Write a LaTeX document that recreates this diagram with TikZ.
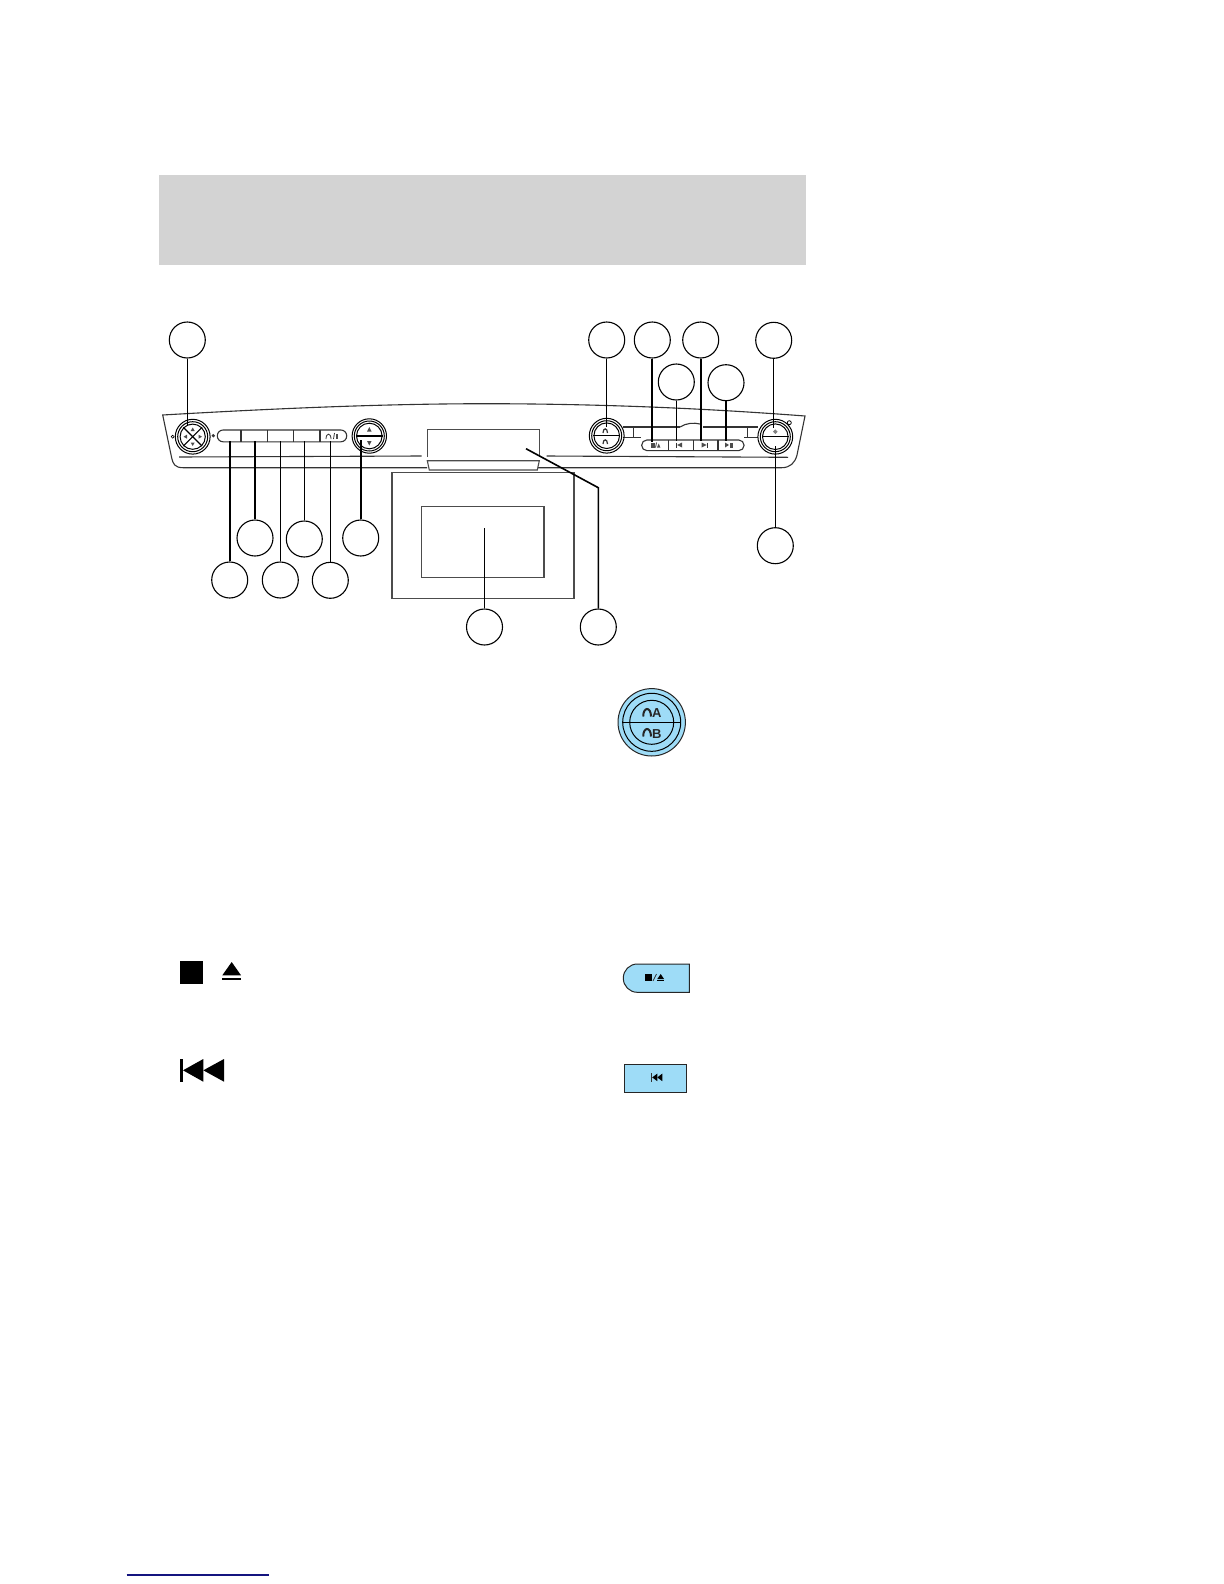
\documentclass[tikz,border=0pt]{standalone}
\usepackage{fontspec}
\setmainfont{Liberation Sans}
\usepackage{xcolor}
\usetikzlibrary{shapes.geometric, positioning}
\definecolor{headgrey}{HTML}{D3D3D3}
\definecolor{iconblue}{HTML}{9EDCF7}
\definecolor{footblue}{HTML}{14147F}

\begin{document}
\begin{tikzpicture}[
    x=0.5pt, y=-0.5pt,
    bubble/.style={circle, draw, line width=0.55pt, minimum size=18pt, inner sep=0pt},
    ring/.style={circle, draw, line width=0.5pt, inner sep=0pt},
    leader/.style={line width=0.55pt},
    heavy/.style={line width=1.1pt},
    panel/.style={line width=0.55pt, draw=black!80},
    screen/.style={line width=0.55pt, draw=black!70},
    iconbox/.style={draw=black!85, fill=iconblue, line width=0.5pt},
    glyph/.style={fill=black},
    tiny/.style={fill=black!70},
    phones/.style={line width=0.4pt, draw=black!80},
    bigphones/.style={line width=1pt, draw=black!85},
    iconletter/.style={font=\fontsize{6.5}{7}\selectfont\bfseries, inner sep=0pt, text=black!85}
]
    \path [use as bounding box, fill=white] (0,0) rectangle (1224,1584);

    % page head and foot
    \fill [headgrey] (158.5,175) rectangle (806,265);
    \draw [footblue, line width=0.55pt] (126.7,1575) -- (269,1575);

    % overhead panel outline
    \draw [panel] (427,467.7) -- (183,467.7) .. controls (175,467.7) and (173,464) .. (171.7,458) -- (162.7,415)
        .. controls (300,407) and (400,403.7) .. (490,403.7)
        .. controls (600,404) and (700,408) .. (805,416) -- (797,455)
        .. controls (795,463) and (790,467.7) .. (781.7,467.7) -- (538,467.7);
    \draw [panel] (179,457) -- (421.7,456);
    \draw [panel] (546.7,456) -- (788,457.3);

    % left side controls
    \node (ringA) [ring, minimum size=17.4pt] at (192.7,436.7) {};
    \node (ringB) [ring, minimum size=15pt] at (192.7,436.7) {};
    \node (ringC) [ring, minimum size=12.6pt] at (192.7,436.7) {};
    \draw [leader] (ringC.45) -- (ringC.225);
    \draw [leader] (ringC.135) -- (ringC.315);
    \fill [tiny] (192.7,427.5) -- (194.7,431) -- (190.7,431) -- cycle;
    \fill [tiny] (192.7,446) -- (194.7,442.5) -- (190.7,442.5) -- cycle;
    \fill [tiny] (183.5,436.7) -- (187,434.7) -- (187,438.7) -- cycle;
    \fill [tiny] (202,436.7) -- (198.5,434.7) -- (198.5,438.7) -- cycle;
    \node (dotA) [circle, draw, line width=0.3pt, minimum size=1.5pt, inner sep=0pt] at (172.7,436.7) {};
    \node (dotB) [circle, fill=black!80, minimum size=1.8pt, inner sep=0pt] at (213.3,435.7) {};

    \node (stripL) [draw=black!80, line width=0.55pt, rectangle, rounded corners=2.9pt, minimum width=64.7pt, minimum height=5.9pt, inner sep=0pt] at (282,435.9) {};
    \draw [panel] (241,430) -- (241,441.8);
    \draw [panel] (267.3,430) -- (267.3,441.8);
    \draw [panel] (293.7,430) -- (293.7,441.8);
    \draw [panel] (320,430) -- (320,441.8);
    \draw [phones] (326,439) .. controls (326,432.5) and (331,432.5) .. (331,439);
    \draw [phones] (333.5,439) -- (334.5,433);
    \fill [tiny] (335.5,433.5) rectangle (338,439);

    \node (ringD) [ring, minimum size=17.2pt] at (369.3,436) {};
    \node (ringE) [ring, minimum size=15pt] at (369.3,436) {};
    \node (ringF) [ring, minimum size=12.8pt] at (369.3,436) {};
    \draw [leader] (ringF.west) -- (ringF.east);
    \fill [tiny] (369.3,427) -- (371.5,431.5) -- (367.1,431.5) -- cycle;
    \fill [tiny] (369.3,445.5) -- (371.5,441) -- (367.1,441) -- cycle;

    % screen and its housing
    \draw [screen] (427.3,457) -- (427.3,429.3) -- (539.3,429.3) -- (539.3,457);
    \draw [screen] (427.3,460.7) -- (539.3,460.7) -- (537.3,470) -- (429.3,470) -- cycle;
    \draw [screen] (392,472.3) rectangle (574,598.3);
    \draw [screen] (421.7,506.7) rectangle (544,577.3);

    % right side controls
    \draw [panel] (623.3,427) -- (680,427);
    \draw [panel] (680,427) .. controls (686,423) and (694,422.5) .. (700,424);
    \draw [panel] (703,427) -- (758.3,427);
    \draw [panel] (623.3,437.3) -- (641,437.3);
    \draw [panel] (744,437.3) -- (758.3,437.3);
    \draw [panel] (633.3,427) -- (633.3,437.3);
    \draw [panel] (747.3,427) -- (747.3,437.3);

    \node (ringG) [ring, minimum size=17.4pt] at (606.7,435.7) {};
    \node (ringH) [ring, minimum size=15pt] at (606.7,435.7) {};
    \node (ringI) [ring, minimum size=12.8pt] at (606.7,435.7) {};
    \draw [leader] (ringI.west) -- (ringI.east);
    \draw [phones, line width=0.6pt] (603,433) .. controls (603,427.5) and (607.5,427.5) .. (607.5,433);
    \draw [phones, line width=0.6pt] (603,444) .. controls (603,438.5) and (607.5,438.5) .. (607.5,444);

    \node (stripR) [draw=black!80, line width=0.55pt, fill=white, rectangle, rounded corners=2.6pt, minimum width=51.2pt, minimum height=5.3pt, inner sep=0pt] at (692.85,445.3) {};
    \draw [panel] (668.3,440) -- (668.3,450.7);
    \draw [panel] (693.3,440) -- (693.3,450.7);
    \draw [panel] (718,440) -- (718,450.7);
    \fill [tiny] (651,442.5) rectangle (654.5,447.5);
    \draw [phones] (655.5,447.5) -- (656.5,442.5);
    \fill [tiny] (657,447.5) -- (658.7,443.5) -- (660.4,447.5) -- cycle;
    \draw [phones] (676.5,442.5) -- (676.5,447.5);
    \fill [tiny] (677,445) -- (682,442.5) -- (682,447.5) -- cycle;
    \fill [tiny] (706.5,445) -- (701.5,442.5) -- (701.5,447.5) -- cycle;
    \draw [phones] (707,442.5) -- (707,447.5);
    \fill [tiny] (725,442.5) -- (725,447.5) -- (729,445) -- cycle;
    \fill [tiny] (729.5,442.5) rectangle (732.5,447.5);

    \node (ringJ) [ring, minimum size=17.4pt] at (775.3,436.7) {};
    \node (ringK) [ring, minimum size=15pt] at (775.3,436.7) {};
    \node (ringL) [ring, minimum size=12.8pt] at (775.3,436.7) {};
    \draw [leader] (ringL.west) -- (ringL.east);
    \node (knobMark) [diamond, fill=black!50, minimum size=2.5pt, inner sep=0pt] at (775.3,431.7) {};
    \node (lampDot) [circle, draw, line width=0.4pt, minimum size=2pt, inner sep=0pt] at (789.3,422.7) {};

    % callout bubbles
    \node (callA) [bubble] at (187.3,340) {};
    \node (callB) [bubble] at (229.7,580) {};
    \node (callC) [bubble] at (255,538) {};
    \node (callD) [bubble] at (280.3,580) {};
    \node (callE) [bubble] at (304.3,539) {};
    \node (callF) [bubble] at (330.3,580.3) {};
    \node (callG) [bubble] at (360.7,538) {};
    \node (callH) [bubble] at (484.5,627) {};
    \node (callI) [bubble] at (598.3,627) {};
    \node (callJ) [bubble] at (606.7,340) {};
    \node (callK) [bubble] at (652.3,340) {};
    \node (callL) [bubble] at (676.3,382) {};
    \node (callM) [bubble] at (700.7,340) {};
    \node (callN) [bubble] at (726,382.7) {};
    \node (callO) [bubble] at (773.7,340.3) {};
    \node (callP) [bubble] at (775.3,545.7) {};

    \coordinate (tipA) at (187.3,426);
    \coordinate (tipB) at (229.7,441);
    \coordinate (tipC) at (255,441);
    \coordinate (tipD) at (280.3,441);
    \coordinate (tipE) at (304.3,441);
    \coordinate (tipF) at (330.3,441);
    \coordinate (tipG) at (360.7,440);
    \coordinate (tipH) at (484.5,528.3);
    \coordinate (tipI) at (526,448.7);
    \coordinate (bendI) at (598.3,487.7);
    \coordinate (tipJ) at (606.7,426.7);
    \coordinate (tipK) at (652.3,441.7);
    \coordinate (tipL) at (676.3,441);
    \coordinate (tipM) at (700.7,441);
    \coordinate (tipN) at (726,441);
    \coordinate (tipO) at (773.7,428);
    \coordinate (tipP) at (775.3,446);

    \draw [leader] (callA) -- (tipA);
    \draw [heavy] (callB) -- (tipB);
    \draw [heavy] (callC) -- (tipC);
    \draw [leader] (callD) -- (tipD);
    \draw [leader] (callE) -- (tipE);
    \draw [leader] (callF) -- (tipF);
    \draw [heavy] (callG) -- (tipG);
    \draw [leader] (callH) -- (tipH);
    \draw [heavy, line width=0.8pt] (callI) -- (bendI) -- (tipI);
    \draw [leader] (callJ) -- (tipJ);
    \draw [heavy] (callK) -- (tipK);
    \draw [leader] (callL) -- (tipL);
    \draw [heavy] (callM) -- (tipM);
    \draw [heavy] (callN) -- (tipN);
    \draw [leader] (callO) -- (tipO);
    \draw [leader] (callP) -- (tipP);

    % headphone selector icon
    \node (iconKnob) [iconbox, circle, minimum size=33.7pt, inner sep=0pt] at (651.7,722.3) {};
    \node (iconMid) [ring, minimum size=29pt] at (651.7,722.3) {};
    \node (iconCore) [ring, minimum size=22pt] at (651.7,722.3) {};
    \draw [leader] (iconMid.west) -- (iconMid.east);
    \draw [bigphones] (643.2,716.5) .. controls (643.2,706.5) and (651,706.5) .. (651,716.5);
    \draw [bigphones] (643.2,736.5) .. controls (643.2,726.5) and (651,726.5) .. (651,736.5);
    \node (letterA) [iconletter] at (656.8,713) {A};
    \node (letterB) [iconletter] at (656.8,733.6) {B};

    % stop / eject
    \fill [glyph] (180,961) rectangle (203,984);
    \fill [glyph] (231.7,962) -- (241,975.3) -- (222.3,975.3) -- cycle;
    \fill [glyph] (222.3,978) rectangle (241,980);
    \draw [iconbox] (689.3,964) -- (689.3,992.3) {[rounded corners=7pt] -- (623.3,992.3) -- (623.3,964)} -- cycle;
    \fill [glyph] (645,974.3) rectangle (652.3,980.7);
    \draw [phones] (653,981) -- (656.5,974);
    \fill [glyph] (657.3,979) -- (664,979) -- (660.7,974) -- cycle;
    \fill [glyph] (657.3,980) rectangle (664,980.8);

    % previous track
    \fill [glyph] (180.3,1059) rectangle (183,1081.7);
    \fill [glyph] (183,1070.3) -- (203.3,1059) -- (203.3,1081.7) -- cycle;
    \fill [glyph] (203.3,1070.3) -- (224,1059) -- (224,1081.7) -- cycle;
    \node (iconPrev) [iconbox, rectangle, minimum width=31pt, minimum height=14pt, inner sep=0pt] at (655.3,1078.3) {};
    \draw [phones] (651.2,1073.3) -- (651.2,1081.5);
    \fill [glyph] (652.2,1077.4) -- (657.3,1073.6) -- (657.3,1081.2) -- cycle;
    \fill [glyph] (657.3,1077.4) -- (662.3,1073.6) -- (662.3,1081.2) -- cycle;
\end{tikzpicture}
\end{document}
